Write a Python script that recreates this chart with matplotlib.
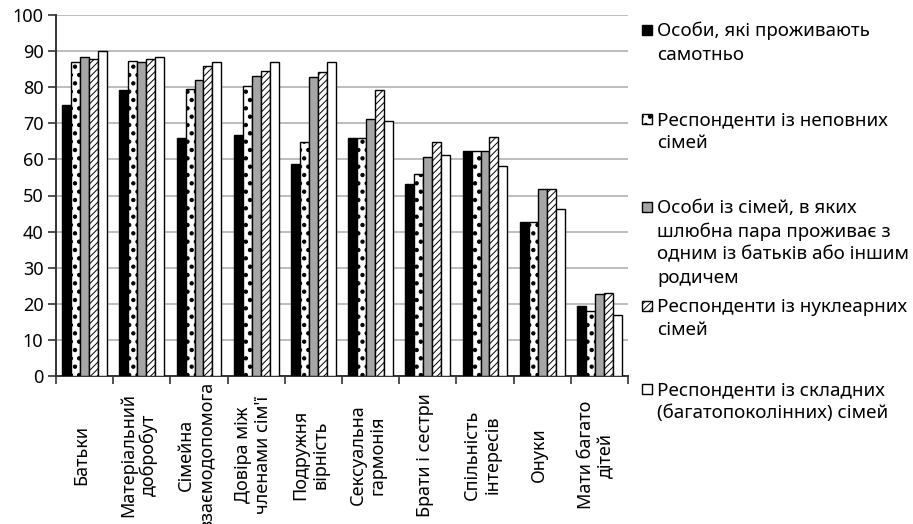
import matplotlib
matplotlib.use("Agg")
import matplotlib.pyplot as plt
import matplotlib.hatch as mhatch
from matplotlib.patches import Rectangle
import numpy as np

plt.rcParams['font.family'] = ['Noto Sans', 'DejaVu Sans']
plt.rcParams['hatch.linewidth'] = 0.7
mhatch.SmallFilledCircles.size = 0.2

categories = ["Батьки", "Матеріальний\nдобробут", "Сімейна\nвзаємодопомога",
              "Довіра між\nчленами сім'ї", "Подружня\nвірність", "Сексуальна\nгармонія",
              "Брати і сестри", "Спільність\nінтересів", "Онуки", "Мати багато\nдітей"]

alone = [75, 79.2, 65.9, 66.7, 58.8, 65.8, 53.1, 62.4, 42.6, 19.5]
incomplete = [86.9, 87.3, 79.4, 80.2, 64.9, 65.8, 55.9, 62.4, 42.6, 18.1]
with_parent = [88.4, 86.9, 81.9, 83.1, 82.8, 71.2, 60.8, 62.4, 51.7, 22.7]
nuclear = [87.7, 87.7, 86.0, 84.4, 84.1, 79.1, 64.9, 66.2, 51.7, 23.1]
complex_fam = [90.1, 88.4, 86.9, 86.9, 86.9, 70.7, 61.2, 58.3, 46.3, 16.9]

series_labels = ["Особи, які проживають\nсамотньо",
                 "Респонденти із неповних\nсімей",
                 "Особи із сімей, в яких\nшлюбна пара проживає з\nодним із батьків або іншим\nродичем",
                 "Респонденти із нуклеарних\nсімей",
                 "Респонденти із складних\n(багатопоколінних) сімей"]

yticks = list(range(0, 101, 10))

series = [alone, incomplete, with_parent, nuclear, complex_fam]
styles = [dict(facecolor='black', hatch=None),
          dict(facecolor='white', hatch='..'),
          dict(facecolor='#a6a6a6', hatch=None),
          dict(facecolor='white', hatch='/////'),
          dict(facecolor='white', hatch=None)]

W, H = 913, 524
fig = plt.figure(figsize=(W / 100, H / 100), dpi=100)
ax = fig.add_axes([56 / W, 1 - 376 / H, (628 - 56) / W, (376 - 15) / H])

x = np.arange(len(categories))
bw = 0.157
n = len(series)
for i, (vals, st) in enumerate(zip(series, styles)):
    offs = (i - (n - 1) / 2) * bw
    ax.bar(x + offs, vals, width=bw, facecolor=st['facecolor'], hatch=st['hatch'],
           edgecolor='black', linewidth=1.0, zorder=3)

ax.set_xlim(-0.5, len(categories) - 0.5)
ax.set_ylim(0, 100)
ax.set_yticks(yticks)
ax.set_yticklabels([str(v) for v in yticks], fontsize=13)
ax.yaxis.grid(True, color='#b8b8b8', linewidth=1.3)
ax.set_axisbelow(True)
ax.set_xticks(np.arange(len(categories) + 1) - 0.5)
ax.set_xticklabels([])
ax.tick_params(axis='x', length=6, width=1.2, color='#333333', direction='out')
ax.tick_params(axis='y', length=6, width=1.2, color='#333333', direction='out', pad=3)
for s in ['top', 'right']:
    ax.spines[s].set_visible(False)
for s in ['left', 'bottom']:
    ax.spines[s].set_color('#333333')
    ax.spines[s].set_linewidth(1.4)

trans = ax.get_xaxis_transform()
for i, lab in enumerate(categories):
    ax.text(i - 0.05, -0.219, lab, transform=trans, rotation=90, ha='center', va='center',
            multialignment='center', fontsize=13, linespacing=1.15)

# legend (manual)
baselines = [36, 125, 213, 312, 395]
for lab, st, b in zip(series_labels, styles, baselines):
    sq = 10
    r = Rectangle((642 / W, 1 - (b - 1) / H), sq / W, sq / H, transform=fig.transFigure,
                  facecolor=st['facecolor'], hatch=st['hatch'], edgecolor='black',
                  linewidth=1.0)
    fig.add_artist(r)
    fig.text(657 / W, 1 - (b - 14) / H, lab, ha='left', va='top', fontsize=13.5,
             linespacing=1.36)

fig.savefig("out.png", dpi=100)
